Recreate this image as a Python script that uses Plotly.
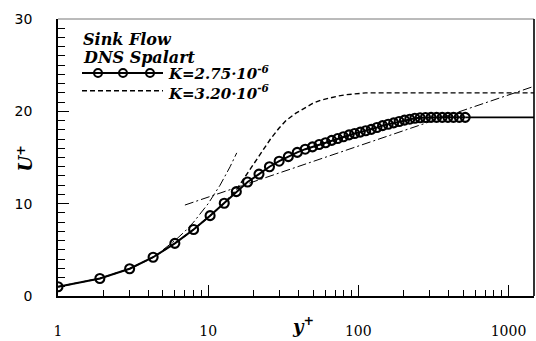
import plotly.graph_objects as go

# ---- data ----
sink_yplus = [1, 1.9, 3.0, 4.3, 6.0, 8.0, 10.3, 12.8, 15.4, 18.3, 21.8, 25.6, 29.7, 34.2,
              39.2, 44.3, 49.5, 54.8, 60.5, 66.5, 72.8, 79.5, 86.8, 94.5, 103, 112, 122,
              133, 145, 158, 172, 187, 203, 220, 238, 258, 280, 305, 332, 362, 395, 430,
              470, 515]
sink_u = [1.0, 1.9, 2.95, 4.2, 5.7, 7.2, 8.7, 10.05, 11.3, 12.35, 13.2, 14.0, 14.6, 15.1,
          15.55, 15.9, 16.15, 16.4, 16.6, 16.85, 17.05, 17.25, 17.45, 17.6, 17.75, 17.9,
          18.05, 18.25, 18.45, 18.6, 18.75, 18.9, 19.05, 19.15, 19.25, 19.3, 19.33, 19.35,
          19.35, 19.35, 19.35, 19.35, 19.35, 19.35]
sink_tail_yplus = [515, 1600]
sink_tail_u = [19.35, 19.35]

spal_yplus = [1, 1.9, 3.0, 4.3, 6.0, 8.0, 10.3, 12.8, 15.4, 17.8, 20, 23, 26, 29.7, 33,
              38.4, 44, 49.6, 56, 64, 73, 82.8, 95, 112, 150, 1600]
spal_u = [1.0, 1.9, 2.95, 4.2, 5.7, 7.2, 8.7, 10.05, 11.5, 13.0, 14.3, 15.7, 17.0, 18.2,
          19.0, 19.8, 20.4, 20.85, 21.2, 21.45, 21.65, 21.8, 21.9, 22.0, 22.0, 22.0]

linear_yplus = [5, 6, 7, 8, 10, 12, 14, 15.5]
linear_u = [5, 6, 7, 8, 10, 12, 14, 15.5]

log_yplus = [7, 1600]
log_u = [9.85, 22.9]

x_ticks = [1, 10, 100, 1000]
x_ticktext = ["1", "10", "100", "1000"]
y_ticks = [0, 10, 20, 30]

legend_title = ["Sink Flow", "DNS Spalart"]
legend_k = ["K=2.75·10<sup>-6</sup>", "K=3.20·10<sup>-6</sup>"]

# ---- figure ----
W, H = 536, 341
L, R, T, B = 58, 2, 19, 40
PW, PH = W - L - R, H - T - B


def px(x):
    return (x - L) / PW


def py(y):
    return (T + PH - y) / PH


fig = go.Figure()

fig.add_trace(go.Scatter(x=log_yplus, y=log_u, mode="lines",
                         line=dict(color="black", width=1, dash="9px,3px,2px,3px"),
                         showlegend=False))
fig.add_trace(go.Scatter(x=linear_yplus, y=linear_u, mode="lines",
                         line=dict(color="black", width=1, dash="9px,3px,2px,3px"),
                         showlegend=False))
fig.add_trace(go.Scatter(x=spal_yplus, y=spal_u, mode="lines",
                         line=dict(color="black", width=1.4, dash="5px,3px"),
                         showlegend=False))
fig.add_trace(go.Scatter(x=sink_tail_yplus, y=sink_tail_u, mode="lines",
                         line=dict(color="black", width=1.8), showlegend=False))
fig.add_trace(go.Scatter(x=sink_yplus, y=sink_u, mode="lines+markers",
                         line=dict(color="black", width=2),
                         marker=dict(symbol="circle-open", size=9, color="black",
                                     line=dict(width=2.1)),
                         showlegend=False))

minor_x = [d * m for d in [1, 10, 100, 1000] for m in range(2, 10)]

fig.update_xaxes(type="log", range=[0, 3.17], showgrid=False, zeroline=False,
                 tickvals=x_ticks, ticktext=x_ticktext, ticks="inside", ticklen=11,
                 tickwidth=1.2, tickcolor="black",
                 showline=True, linecolor="black", linewidth=1.6, mirror=False,
                 ticklabelstandoff=21,
                 tickfont=dict(family="DejaVu Serif", size=14, color="black"),
                 minor=dict(tickvals=minor_x, ticks="inside", ticklen=6,
                            tickcolor="black", tickwidth=1))
fig.update_yaxes(range=[0, 30], showgrid=False, zeroline=False,
                 tickvals=y_ticks, ticks="inside", ticklen=11, tickwidth=1.2,
                 tickcolor="black", showline=True, linecolor="black", linewidth=1.6,
                 ticklabelstandoff=21,
                 tickfont=dict(family="DejaVu Sans", size=14, color="black"),
                 minor=dict(dtick=1, ticks="inside", ticklen=7, tickcolor="black",
                            tickwidth=1))

K_Y1, K_Y2 = 74, 92
shapes = [
    # top and right frame
    dict(type="line", xref="paper", yref="paper", x0=0, x1=1, y0=1, y1=1,
         line=dict(color="#777777", width=1)),
    dict(type="line", xref="paper", yref="paper", x0=1, x1=1, y0=0, y1=1,
         line=dict(color="black", width=1.6)),
    # legend samples
    dict(type="line", xref="paper", yref="paper", x0=px(82), x1=px(163),
         y0=py(K_Y1), y1=py(K_Y1), line=dict(color="black", width=2)),
    dict(type="line", xref="paper", yref="paper", x0=px(82), x1=px(163),
         y0=py(K_Y2), y1=py(K_Y2), line=dict(color="black", width=1.4, dash="5px,3px")),
]
for cx in [98, 123, 150]:
    shapes.append(dict(type="circle", xref="paper", yref="paper",
                       xsizemode="pixel", ysizemode="pixel",
                       xanchor=px(cx), yanchor=py(K_Y1), x0=-4, x1=4, y0=-4, y1=4,
                       line=dict(color="black", width=2)))

font_leg = dict(family="DejaVu Serif", size=16, color="black")
font_k = dict(family="DejaVu Serif", size=15, color="black")
k_text = "<br>".join("<b><i>%s</i></b>" % t for t in legend_k)
annotations = [
    dict(text="<b><i>%s</i></b>" % legend_title[0], x=px(81), y=py(40), xref="paper",
         yref="paper", xanchor="left", yanchor="middle", showarrow=False, font=font_leg),
    dict(text="<b><i>%s</i></b>" % legend_title[1], x=px(81), y=py(58), xref="paper",
         yref="paper", xanchor="left", yanchor="middle", showarrow=False, font=font_leg),
    dict(text=k_text, x=px(166), y=py((K_Y1 + K_Y2) / 2 + 1), xref="paper",
         yref="paper", xanchor="left", yanchor="middle", align="left",
         showarrow=False, font=font_k),
    # axis titles
    dict(text="<b><i>y<sup>+</sup></i></b>", x=px(303), y=py(331), xref="paper",
         yref="paper", xanchor="center", yanchor="middle", showarrow=False,
         font=dict(family="DejaVu Serif", size=18, color="black")),
    dict(text="<b><i>U<sup>+</sup></i></b>", x=px(25), y=py(161), xref="paper",
         yref="paper", xanchor="center", yanchor="middle", showarrow=False,
         textangle=-90, font=dict(family="DejaVu Serif", size=18, color="black")),
]

fig.update_layout(width=W, height=H, margin=dict(l=L, r=R, t=T, b=B),
                  paper_bgcolor="white", plot_bgcolor="white", showlegend=False,
                  shapes=shapes, annotations=annotations)

fig.write_html("out.html")
